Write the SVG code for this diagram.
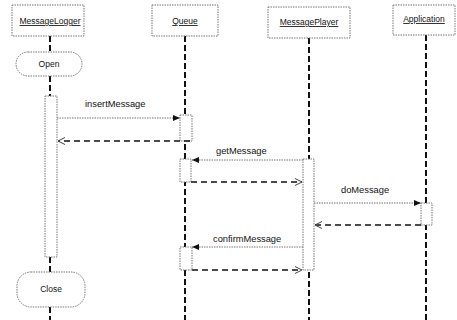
<svg xmlns="http://www.w3.org/2000/svg" width="457" height="320" viewBox="0 0 457 320">
<defs>
<style>
.box{fill:#fff;stroke:#777;stroke-width:1;stroke-dasharray:1.5 1}
.act{fill:#fff;stroke:#777;stroke-width:1;stroke-dasharray:1.5 1}
.life{stroke:#111;stroke-width:2;stroke-dasharray:6 3;fill:none}
.msg{stroke:#777;stroke-width:1;stroke-dasharray:1.5 1;fill:none}
.ret{stroke:#111;stroke-width:1.6;stroke-dasharray:6 4;fill:none}
text{font-family:"Liberation Sans",Arial,sans-serif;font-size:9.3px;fill:#111}
.hd{text-decoration:underline;text-anchor:middle;font-size:8.5px}
.c{text-anchor:middle;font-size:8.5px}
</style>
<marker id="fill" markerWidth="8" markerHeight="6" refX="7" refY="3" orient="auto" markerUnits="userSpaceOnUse">
<path d="M0,0 L7,3 L0,6 Z" fill="#111"/>
</marker>
<marker id="open" markerWidth="8" markerHeight="8" refX="7" refY="4" orient="auto" markerUnits="userSpaceOnUse">
<path d="M0,0.5 L7,4 L0,7.5" fill="none" stroke="#444" stroke-width="1"/>
</marker>
</defs>
<g id="lifelines">
<line class="life" x1="50" y1="36" x2="50" y2="52"/>
<line class="life" x1="50" y1="76" x2="50" y2="96"/>
<line class="life" x1="50" y1="257" x2="50" y2="272"/>
<line class="life" x1="50" y1="307" x2="50" y2="320"/>
<line class="life" x1="185" y1="36" x2="185" y2="320"/>
<line class="life" x1="309" y1="38" x2="309" y2="320"/>
<line class="life" x1="426" y1="35" x2="426" y2="320"/>
</g>
<g id="MessageLogger">
<rect class="box" x="12" y="5" width="72" height="31"/>
<text class="hd" x="50" y="24">MessageLogger</text>
</g>
<g id="Queue">
<rect class="box" x="152" y="5" width="66" height="31"/>
<text class="hd" x="185" y="24">Queue</text>
</g>
<g id="MessagePlayer">
<rect class="box" x="268" y="7" width="82" height="31"/>
<text class="hd" x="309" y="25">MessagePlayer</text>
</g>
<g id="Application">
<rect class="box" x="393" y="5" width="62" height="30"/>
<text class="hd" x="424" y="22">Application</text>
</g>
<g id="Open">
<rect class="box" x="16" y="52" width="66" height="24" rx="12"/>
<text class="c" x="49" y="67">Open</text>
</g>
<g id="Close">
<rect class="box" x="17" y="272" width="68" height="35" rx="14"/>
<text class="c" x="51" y="292">Close</text>
</g>
<g id="activations">
<rect class="act" x="45" y="96" width="12" height="161"/>
<rect class="act" x="180" y="115" width="12" height="26"/>
<rect class="act" x="180" y="159" width="11" height="23"/>
<rect class="act" x="303" y="159" width="11" height="111"/>
<rect class="act" x="421" y="203" width="11" height="22"/>
<rect class="act" x="180" y="247" width="12" height="23"/>
</g>
<g id="connectors">
<line class="msg" x1="57" y1="118" x2="180" y2="118" marker-end="url(#fill)"/>
<line class="ret" x1="190" y1="141" x2="58" y2="141" marker-end="url(#open)"/>
<line class="msg" x1="303" y1="160" x2="192" y2="160" marker-end="url(#fill)"/>
<line class="ret" x1="191" y1="182" x2="302" y2="182" marker-end="url(#open)"/>
<line class="msg" x1="314" y1="203" x2="421" y2="203" marker-end="url(#fill)"/>
<line class="ret" x1="421" y1="225" x2="315" y2="225" marker-end="url(#open)"/>
<line class="msg" x1="303" y1="247" x2="192" y2="247" marker-end="url(#fill)"/>
<line class="ret" x1="192" y1="270" x2="302" y2="270" marker-end="url(#open)"/>
</g>
<g id="labels">
<text x="85" y="107">insertMessage</text>
<text x="216" y="154">getMessage</text>
<text x="341" y="193">doMessage</text>
<text x="213" y="242">confirmMessage</text>
</g>
</svg>
